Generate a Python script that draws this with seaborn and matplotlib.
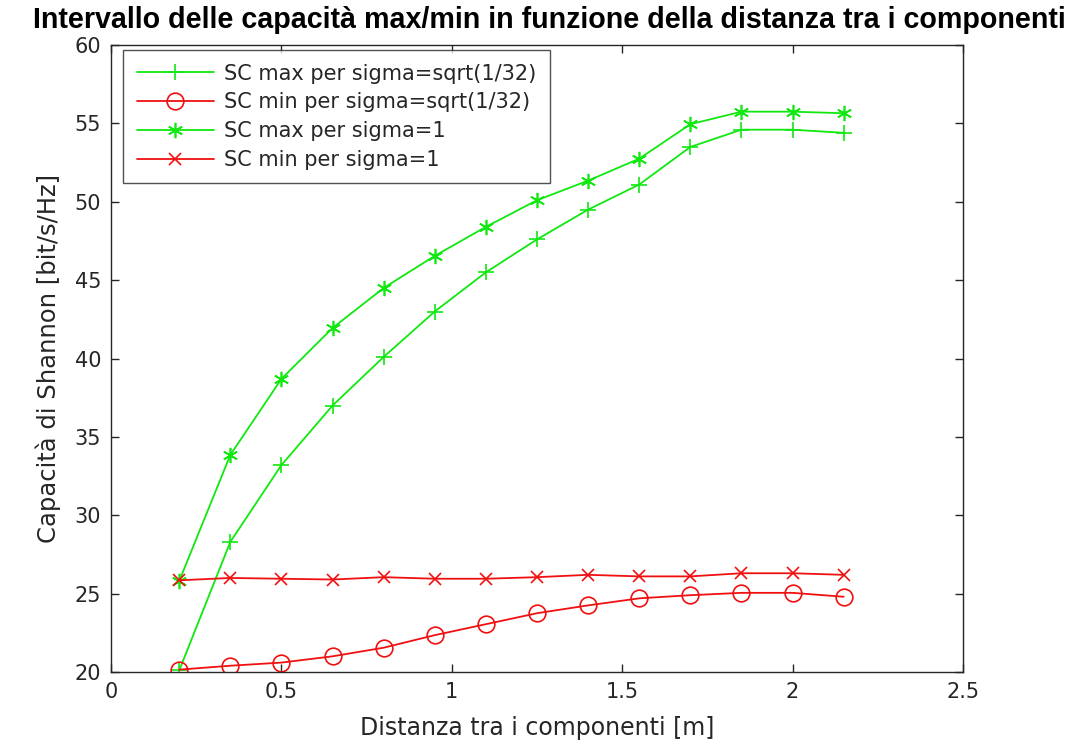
import matplotlib
matplotlib.use("Agg")
import matplotlib.pyplot as plt
import seaborn as sns
import pandas as pd

# Distance between components [m]
distanza = [0.2, 0.35, 0.5, 0.65, 0.8, 0.95, 1.1, 1.25, 1.4, 1.55, 1.7, 1.85, 2.0, 2.15]

# Shannon capacity [bit/s/Hz]
sc_max_sqrt = [20.1, 28.3, 33.2, 37.0, 40.1, 43.0, 45.5, 47.6, 49.5, 51.1, 53.5, 54.6, 54.6, 54.4]
sc_min_sqrt = [20.15, 20.4, 20.6, 21.0, 21.55, 22.35, 23.05, 23.75, 24.25, 24.7, 24.9, 25.05, 25.05, 24.8]
sc_max_one = [25.8, 33.85, 38.7, 41.95, 44.5, 46.55, 48.4, 50.1, 51.35, 52.75, 54.95, 55.75, 55.75, 55.65]
sc_min_one = [25.85, 26.0, 25.95, 25.9, 26.05, 25.95, 25.95, 26.05, 26.2, 26.1, 26.1, 26.3, 26.3, 26.2]

labels = [
    "SC max per sigma=sqrt(1/32)",
    "SC min per sigma=sqrt(1/32)",
    "SC max per sigma=1",
    "SC min per sigma=1",
]

sns.set_theme(style="white")
plt.rcParams["font.family"] = ["DejaVu Sans"]

text_col = "#262626"
green = "#10e810"
red = "#f01010"

fig = plt.figure(figsize=(10.74, 7.51), dpi=100)
ax = fig.add_axes([0.1034, 0.1052, 0.7932, 0.8348])

series = [
    (sc_max_sqrt, green, "+", 11, None),
    (sc_min_sqrt, red, "o", 12, "none"),
    (sc_max_one, green, (6, 2, 0), 11, None),
    (sc_min_one, red, "x", 9, None),
]

for (vals, col, mk, ms, mfc), lab in zip(series, labels):
    df = pd.DataFrame({"x": distanza, "y": vals})
    kw = dict(markersize=ms, markeredgewidth=1.2)
    if mfc is not None:
        kw["markerfacecolor"] = mfc
    sns.lineplot(data=df, x="x", y="y", ax=ax, color=col, marker=mk,
                 linewidth=1.3, label=lab, markeredgecolor=col, **kw)

ax.set_xlim(0, 2.5)
ax.set_ylim(20, 60)
ax.set_xticks([0, 0.5, 1, 1.5, 2, 2.5])
ax.set_xticklabels(["0", "0.5", "1", "1.5", "2", "2.5"])
ax.set_yticks(range(20, 61, 5))

for side in ["left", "right", "top", "bottom"]:
    ax.spines[side].set_visible(True)
    ax.spines[side].set_color(text_col)
    ax.spines[side].set_linewidth(1.0)

ax.tick_params(axis="both", which="both", direction="in", length=6, width=1,
               color=text_col, labelcolor=text_col, labelsize=15,
               top=True, right=True, bottom=True, left=True, pad=7)

ax.set_xlabel("Distanza tra i componenti [m]", fontsize=17, color=text_col, labelpad=10)
ax.set_ylabel("Capacità di Shannon [bit/s/Hz]", fontsize=17.5, color=text_col, labelpad=10)
ax.set_title("Intervallo delle capacità max/min in funzione della distanza tra i componenti",
             fontsize=20.6, fontweight="bold", color="black", pad=12, x=0.515,
             family=["Liberation Sans Narrow", "Liberation Sans", "DejaVu Sans"])

leg = ax.legend(loc="upper left", bbox_to_anchor=(12 / 852, 1 - 5 / 627),
                borderaxespad=0, fontsize=15, handlelength=3.7, frameon=True,
                fancybox=False, labelspacing=0.42, borderpad=0.65,
                handletextpad=0.5)
leg.get_frame().set_edgecolor(text_col)
leg.get_frame().set_linewidth(1.0)
for t in leg.get_texts():
    t.set_color(text_col)

fig.savefig("out.png", dpi=100)
